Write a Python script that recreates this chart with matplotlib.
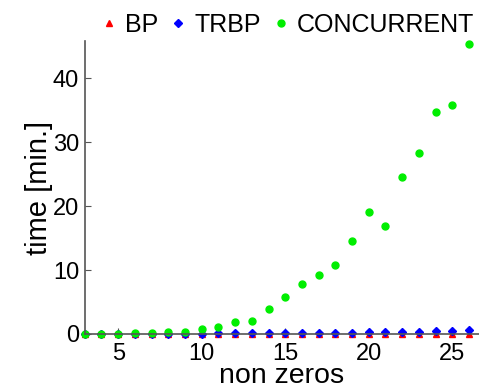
import matplotlib
matplotlib.use("Agg")
import matplotlib.pyplot as plt

non_zeros = list(range(3, 27))
bp_time = [0.0] * 24
trbp_time = [0.0, 0.0, 0.0, 0.02, 0.03, 0.04, 0.05, 0.06, 0.08, 0.09, 0.1, 0.12,
             0.13, 0.15, 0.17, 0.19, 0.21, 0.25, 0.28, 0.3, 0.35, 0.4, 0.45, 0.55]
concurrent_time = [0.0, 0.0, 0.0, 0.1, 0.15, 0.35, 0.3, 0.8, 1.15, 1.8, 2.0, 3.9,
                   5.8, 7.8, 9.2, 10.8, 14.5, 19.1, 16.9, 24.6, 28.3, 34.7, 35.8, 45.3]

plt.rcParams["font.family"] = ["Liberation Sans", "DejaVu Sans"]

fig = plt.figure(figsize=(4.79, 3.92), dpi=100)
ax = fig.add_axes([0.177, 0.148, 0.823, 0.747])

ax.plot(non_zeros, bp_time, linestyle="none", marker="^", markersize=4,
        color="#ff0000", label="BP", clip_on=False)
ax.plot(non_zeros, trbp_time, linestyle="none", marker="D", markersize=4,
        color="#0000ff", label="TRBP", clip_on=False)
ax.plot(non_zeros, concurrent_time, linestyle="none", marker="o", markersize=5,
        color="#00ee00", label="CONCURRENT", clip_on=False)

ax.set_xlim(3, 26.6)
ax.set_ylim(0, 45.8)
ax.set_xticks([5, 10, 15, 20, 25])
ax.set_yticks([0, 10, 20, 30, 40])
ax.tick_params(direction="in", length=4, color="#555555", labelsize=17)
ax.tick_params(axis="x", pad=6.5)
ax.tick_params(axis="y", pad=4)
ax.set_xlabel("non zeros", fontsize=20.5, labelpad=-1.5)
ax.set_ylabel("time [min.]", fontsize=21, labelpad=0)

for side in ("top", "right"):
    ax.spines[side].set_visible(False)
for side in ("left", "bottom"):
    ax.spines[side].set_color("#555555")
    ax.spines[side].set_linewidth(1.2)

fig.legend(loc="center left", bbox_to_anchor=(0.212, 0.937), ncol=3, frameon=False,
           fontsize=18, handlelength=0.6, handletextpad=0.34, columnspacing=0.5,
           borderaxespad=0, borderpad=0)

fig.savefig("out.png", dpi=100)
